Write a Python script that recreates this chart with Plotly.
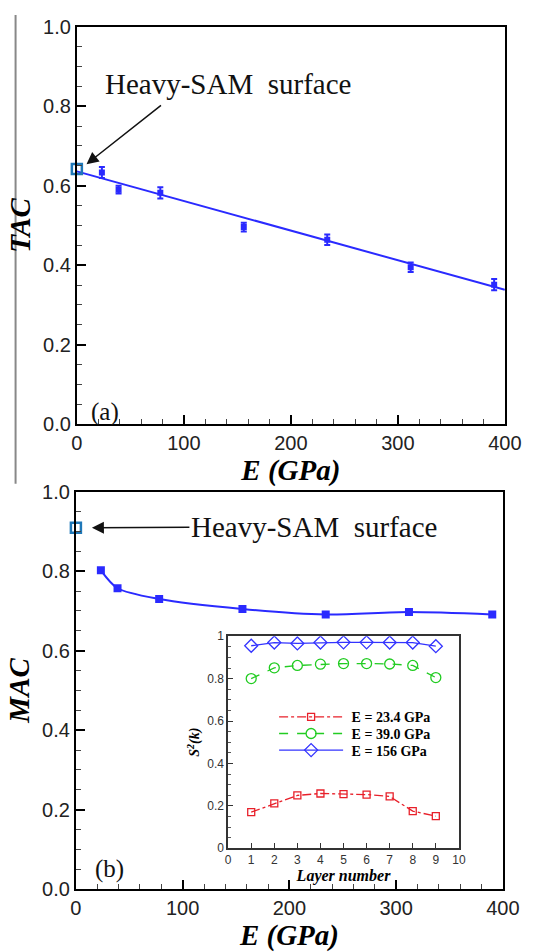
import plotly.graph_objects as go

# ---------------- data ----------------
E_vals = [23.4, 39.0, 78.0, 156.0, 234.0, 312.0, 390.0]
tac_vals = [0.633, 0.590, 0.582, 0.496, 0.464, 0.395, 0.351]
tac_err = [0.014, 0.010, 0.014, 0.011, 0.013, 0.012, 0.014]
fit_E = [0.0, 400.0]
fit_tac = [0.636, 0.338]
mac_vals = [0.802, 0.757, 0.730, 0.705, 0.691, 0.697, 0.691]
sam_E = [0.0]
sam_tac = [0.642]
sam_mac = [0.909]

layers = [1, 2, 3, 4, 5, 6, 7, 8, 9]
s2_234 = [0.170, 0.211, 0.249, 0.258, 0.255, 0.253, 0.244, 0.175, 0.151]
s2_390 = [0.800, 0.851, 0.862, 0.868, 0.871, 0.871, 0.869, 0.862, 0.805]
s2_156 = [0.955, 0.970, 0.966, 0.970, 0.971, 0.971, 0.970, 0.970, 0.953]
legend_names = ["E = 23.4 GPa", "E = 39.0 GPa", "E = 156 GPa"]

W, H = 541, 952
BLUE = "#2a2aff"
SAMC = "#1f78b8"
SERIF = "Liberation Serif, Times New Roman, serif"
SANS = "Liberation Sans, Arial, sans-serif"


def px_x(a, b):
    return [a / W, b / W]


def px_y(top, bottom):
    return [1 - bottom / H, 1 - top / H]


fig = go.Figure()

# ---------- panel (a) ----------
fig.add_trace(go.Scatter(x=fit_E, y=fit_tac, mode="lines", line=dict(color=BLUE, width=2),
                         xaxis="x", yaxis="y", showlegend=False))
fig.add_trace(go.Scatter(x=E_vals, y=tac_vals, mode="markers",
                         marker=dict(symbol="square", size=6, color=BLUE),
                         error_y=dict(type="data", array=tac_err, color=BLUE, thickness=2, width=3),
                         xaxis="x", yaxis="y", showlegend=False))
fig.add_trace(go.Scatter(x=sam_E, y=sam_tac, mode="markers",
                         marker=dict(symbol="square-open", size=10, color=SAMC, line=dict(width=2.5)),
                         xaxis="x", yaxis="y", showlegend=False, cliponaxis=False))

# ---------- panel (b) ----------
fig.add_trace(go.Scatter(x=E_vals, y=mac_vals, mode="lines+markers",
                         line=dict(color=BLUE, width=2, shape="spline", smoothing=0.8),
                         marker=dict(symbol="square", size=8, color=BLUE),
                         xaxis="x2", yaxis="y2", showlegend=False))
fig.add_trace(go.Scatter(x=sam_E, y=sam_mac, mode="markers",
                         marker=dict(symbol="square-open", size=10, color=SAMC, line=dict(width=2.5)),
                         xaxis="x2", yaxis="y2", showlegend=False, cliponaxis=False))

# ---------- inset ----------
inset_series = [
    (s2_234, legend_names[0], "#e8202a", "dashdot", "square-open", 7, "legend"),
    (s2_390, legend_names[1], "#22cc22", "dash", "circle-open", 10, "legend2"),
    (s2_156, legend_names[2], "#3333ff", "solid", "diamond-open", 10, "legend3"),
]
for vals, name, col, dash, sym, msz, leg in inset_series:
    fig.add_trace(go.Scatter(x=layers, y=vals, mode="lines+markers", name="\u00a0<b>" + name + "</b>",
                             line=dict(color=col, width=1.3, dash=dash),
                             marker=dict(symbol=sym, size=msz, color=col, line=dict(width=1.3)),
                             xaxis="x3", yaxis="y3", legend=leg))

main_tick = dict(ticks="inside", ticklen=9, tickwidth=2, tickcolor="black",
                 showline=True, linecolor="black", linewidth=2, mirror=True,
                 showgrid=False, zeroline=False,
                 tickfont=dict(family=SANS, size=20, color="#222"))


def xax(domain, anchor):
    d = dict(main_tick)
    d.update(domain=domain, anchor=anchor, range=[0, 400], dtick=100, tick0=0,
             minor=dict(dtick=20, ticks="inside", ticklen=5, tickwidth=1, tickcolor="#444"),
             title=dict(text="<b><i>E (GPa)</i></b>", font=dict(family=SERIF, size=29, color="black"),
                        standoff=0))
    return d


def yax(domain, anchor, title):
    d = dict(main_tick)
    d.update(domain=domain, anchor=anchor, range=[0, 1], dtick=0.2, tick0=0, tickformat=".1f",
             minor=dict(dtick=0.05, ticks="inside", ticklen=5, tickwidth=1, tickcolor="#444"),
             title=dict(text="<b><i>" + title + "</i></b>", font=dict(family=SERIF, size=29, color="black"),
                        standoff=4))
    return d


inset_tick = dict(ticks="inside", ticklen=5, tickwidth=1, tickcolor="#333",
                  showline=True, linecolor="#333", linewidth=1.5, mirror=True,
                  showgrid=False, zeroline=False,
                  tickfont=dict(family=SANS, size=12, color="#333"))

xa3 = dict(inset_tick)
xa3.update(domain=px_x(232, 473), anchor="y3", range=[0, 10], dtick=1, tick0=0,
           title=dict(text="<b><i>Layer number</i></b>", font=dict(family=SERIF, size=16, color="black"),
                      standoff=2))
ya3 = dict(inset_tick)
ya3.update(domain=px_y(640, 857), anchor="x3", range=[0, 1], dtick=0.2, tick0=0,
           minor=dict(dtick=0.05, ticks="inside", ticklen=3, tickwidth=1, tickcolor="#555"),
           title=dict(text="<b><i>S<sup>2</sup>(k)</i></b>", font=dict(family=SERIF, size=14, color="black"),
                      standoff=4))


def leg(ycenter):
    return dict(x=280 / W, y=1 - ycenter / H, xanchor="left", yanchor="middle",
                bgcolor="rgba(0,0,0,0)", itemwidth=64, borderwidth=0,
                font=dict(family=SERIF, size=14, color="black"), itemsizing="trace")


fig.update_layout(
    width=W, height=H, margin=dict(l=0, r=0, t=0, b=0),
    paper_bgcolor="white", plot_bgcolor="white",
    xaxis=xax(px_x(74, 521), "y"),
    yaxis=yax(px_y(16, 423), "x", "TAC"),
    xaxis2=xax(px_x(73, 519), "y2"),
    yaxis2=yax(px_y(492, 899), "x2", "MAC"),
    xaxis3=xa3, yaxis3=ya3,
    showlegend=True,
    legend=leg(723), legend2=leg(740), legend3=leg(757),
    font=dict(family=SANS),
)

# Heavy-SAM annotations
fig.add_annotation(xref="paper", yref="paper", x=232 / W, y=1 - 75 / H, xanchor="center", yanchor="middle",
                   text="Heavy-SAM\u00a0 surface",
                   showarrow=False, font=dict(family=SERIF, size=29, color="#111"))
fig.add_annotation(xref="x", yref="y", x=9, y=0.654, ax=76, ay=-60, text="", showarrow=True,
                   arrowhead=2, arrowsize=1.6, arrowwidth=1.5, arrowcolor="#111")
fig.add_annotation(xref="x2", yref="y2", x=15, y=0.909, axref="pixel", ayref="pixel", ax=222, ay=-1,
                   text="Heavy-SAM\u00a0 surface", showarrow=True,
                   arrowhead=2, arrowsize=1.6, arrowwidth=1.5, arrowcolor="#111",
                   font=dict(family=SERIF, size=29, color="#111"))
# panel labels
fig.add_annotation(xref="paper", yref="paper", x=103 / W, y=1 - 410 / H, xanchor="center", yanchor="middle",
                   text="(a)", showarrow=False, font=dict(family=SERIF, size=25, color="#111"))
fig.add_annotation(xref="paper", yref="paper", x=108 / W, y=1 - 878 / H, xanchor="center", yanchor="middle",
                   text="(b)", showarrow=False, font=dict(family=SERIF, size=25, color="#111"))

# gray vertical rule at left (part of the original figure)
fig.add_shape(type="line", xref="paper", yref="paper", x0=10 / W, x1=10 / W,
              y0=1 - 4 / H, y1=1 - 484 / H, line=dict(color="#888", width=2))

fig.write_html("out.html")
